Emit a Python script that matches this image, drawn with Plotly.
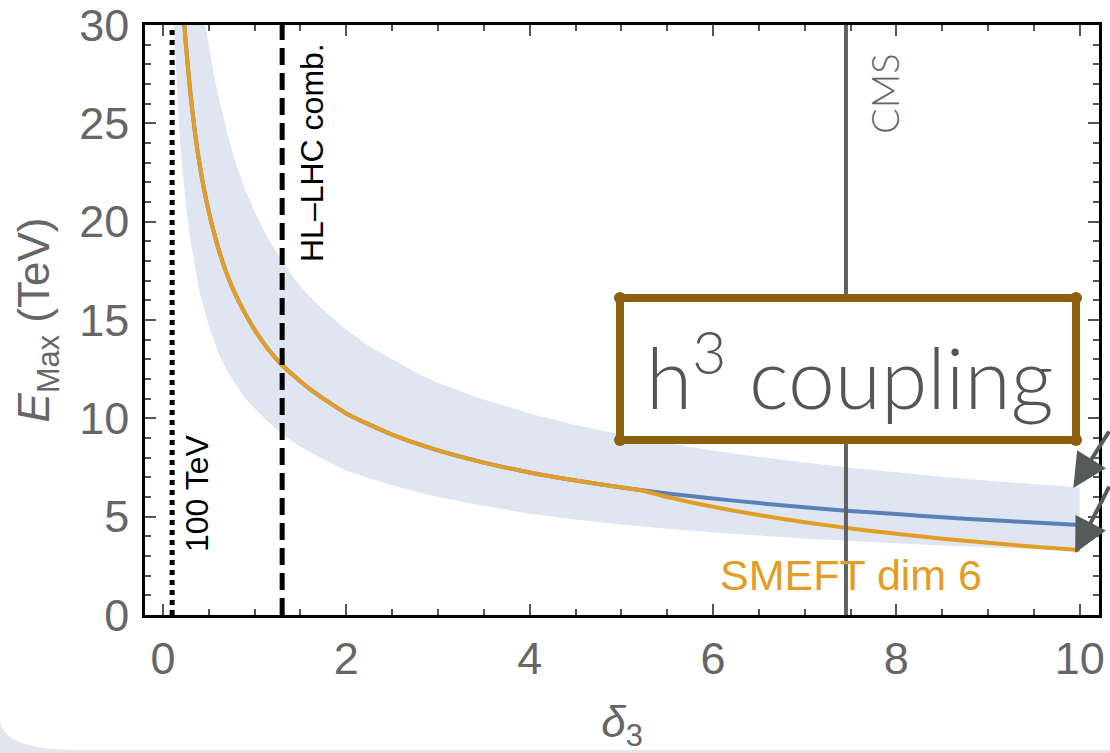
import plotly.graph_objects as go

# ---- data: maximal energy scale E_Max (TeV) vs trilinear deviation delta_3 ----
delta_central = [0.23, 0.25, 0.3, 0.35, 0.4, 0.45, 0.5, 0.6, 0.7, 0.8, 0.9, 1.0, 1.15, 1.3, 1.6,
                 2.0, 2.5, 3.0, 3.5, 4.0, 4.5, 5.0, 5.5, 6.0, 6.5, 7.0, 7.5, 8.0, 8.5, 9.0, 9.5, 10.0]
e_central = [30.2, 29.0, 26.5, 24.5, 22.9, 21.6, 20.5, 18.7, 17.3, 16.2, 15.3, 14.5, 13.5, 12.7, 11.5,
             10.25, 9.17, 8.37, 7.75, 7.25, 6.84, 6.48, 6.18, 5.92, 5.69, 5.48, 5.29, 5.13, 4.97, 4.83, 4.70, 4.57]

delta_smeft = [0.23, 0.25, 0.3, 0.35, 0.4, 0.45, 0.5, 0.6, 0.7, 0.8, 0.9, 1.0, 1.15, 1.3, 1.6,
               2.0, 2.5, 3.0, 3.5, 4.0, 4.5, 5.0, 5.2, 5.5, 6.0, 6.5, 7.0, 7.5, 8.0, 8.5, 9.0, 9.5, 10.0]
e_smeft = [30.2, 29.0, 26.5, 24.5, 22.9, 21.6, 20.5, 18.7, 17.3, 16.2, 15.3, 14.5, 13.5, 12.7, 11.5,
           10.25, 9.17, 8.37, 7.75, 7.25, 6.84, 6.48, 6.36, 6.0, 5.5, 5.08, 4.72, 4.4, 4.13, 3.88, 3.67, 3.47, 3.3]

delta_band_lo = [0.12, 0.14, 0.17, 0.2, 0.25, 0.3, 0.35, 0.4, 0.5, 0.6, 0.7, 0.8, 0.9, 1.0, 1.15, 1.3, 1.45,
                 1.6, 1.8, 2.0, 2.25, 2.5, 2.75, 3.0, 3.5, 4.0, 4.5, 5.0, 5.5, 6.0, 6.5, 7.0, 7.5, 8.0,
                 8.5, 9.0, 9.5, 10.0]
e_band_lo = [30.0, 27.8, 25.2, 23.3, 20.8, 19.0, 17.6, 16.4, 14.7, 13.4, 12.4, 11.7, 11.0, 10.5, 9.8, 9.2, 8.7,
             8.3, 7.8, 7.35, 6.95, 6.6, 6.28, 6.0, 5.55, 5.15, 4.85, 4.6, 4.38, 4.2, 4.03, 3.89, 3.76, 3.64,
             3.53, 3.44, 3.35, 3.27]

delta_band_hi = [0.46, 0.5, 0.55, 0.6, 0.7, 0.8, 0.9, 1.0, 1.15, 1.3, 1.45, 1.6, 1.8, 2.0, 2.25, 2.5, 2.75,
                 3.0, 3.5, 4.0, 4.5, 5.0, 5.5, 6.0, 6.5, 7.0, 7.5, 8.0, 8.5, 9.0, 9.5, 10.0]
e_band_hi = [30.0, 29.0, 27.6, 26.5, 24.5, 22.9, 21.6, 20.5, 19.1, 18.0, 17.0, 16.2, 15.3, 14.5, 13.67, 13.0, 12.36,
             11.8, 10.96, 10.25, 9.66, 9.17, 8.74, 8.37, 8.04, 7.75, 7.49, 7.25, 7.03, 6.83, 6.65, 6.48]

# reference sensitivities on delta_3
delta_100tev = 0.1
delta_hllhc = 1.3
delta_cms = 7.45

# ---- figure geometry (pixels) ----
W, H = 1110, 753
ML, MR, MT, MB = 145, 11, 25, 138
PW, PH = W - ML - MR, H - MT - MB


def pxx(x):
    return (x - ML) / PW


def pxy(y):
    return (H - MB - y) / PH


BAND = "rgb(223,229,241)"
BLUE = "#5b80b8"
ORANGE = "#e29d26"
GREY_TXT = "#666666"
BROWN = "#8c600e"

fig = go.Figure()

fig.add_trace(go.Scatter(
    x=delta_band_lo + delta_band_hi[::-1],
    y=e_band_lo + e_band_hi[::-1],
    fill="toself", fillcolor=BAND, mode="lines", line=dict(width=0),
    hoverinfo="skip", showlegend=False))

fig.add_trace(go.Scatter(
    x=delta_central, y=e_central, mode="lines",
    line=dict(color=BLUE, width=4, shape="spline", smoothing=0.6), showlegend=False))

fig.add_trace(go.Scatter(
    x=delta_smeft, y=e_smeft, mode="lines",
    line=dict(color=ORANGE, width=4, shape="spline", smoothing=0.6), showlegend=False))

shapes = []
# vertical reference lines
shapes.append(dict(type="line", xref="x", yref="y", x0=delta_100tev, x1=delta_100tev, y0=0, y1=30,
                   line=dict(color="black", width=5, dash="5px,5px"), layer="above"))
shapes.append(dict(type="line", xref="x", yref="y", x0=delta_hllhc, x1=delta_hllhc, y0=0, y1=30,
                   line=dict(color="black", width=5, dash="17px,8px"), layer="above"))
shapes.append(dict(type="line", xref="x", yref="y", x0=delta_cms, x1=delta_cms, y0=0, y1=30,
                   line=dict(color="#5e6264", width=4), layer="above"))

# framed label box
bx0, bx1, by0, by1 = 620, 1076, 298, 440
shapes.append(dict(type="rect", xref="paper", yref="paper",
                   x0=pxx(bx0), x1=pxx(bx1), y0=pxy(by1), y1=pxy(by0),
                   fillcolor="white", line=dict(color=BROWN, width=8), layer="above"))
r = 6
for cx, cy in [(bx0, by0), (bx1, by0), (bx0, by1), (bx1, by1)]:
    shapes.append(dict(type="circle", xref="paper", yref="paper",
                       x0=pxx(cx - r), x1=pxx(cx + r), y0=pxy(cy + r), y1=pxy(cy - r),
                       fillcolor=BROWN, line=dict(width=0), layer="above"))

# page background corner
corner = (f"M {pxx(0)},{pxy(753)} L {pxx(0)},{pxy(718)} "
          f"Q {pxx(0)},{pxy(750)} {pxx(78)},{pxy(750)} "
          f"L {pxx(1110)},{pxy(750)} L {pxx(1110)},{pxy(753)} Z")
shapes.append(dict(type="path", xref="paper", yref="paper", path=corner,
                   fillcolor="#e3e6ed", line=dict(width=0), layer="below"))


def label(xp, yp, text, angle=0, **font):
    return dict(x=pxx(xp), y=pxy(yp), xref="paper", yref="paper", text=text, textangle=angle,
                xanchor="center", yanchor="middle", showarrow=False, font=font)


annotations = [
    label(197, 493, "100 TeV", -90, family="Liberation Sans", size=32, color="black"),
    label(312, 153, "HL\u2013LHC comb.", -90, family="Liberation Sans", size=32, color="black"),
    label(884, 94, "CMS", -90, family="Lato", size=38, color=GREY_TXT, weight=300),
    label(851, 575, "SMEFT dim 6", 0, family="Liberation Sans", size=43, color=ORANGE),
    label(850, 372, "h<sup>3</sup> coupling", 0, family="Lato", size=84, color="#555555", weight=300),
    # pointer arrows from the right margin
    dict(x=9.93, y=6.46, xref="x", yref="y", ax=60, ay=-58, text="", showarrow=True,
         arrowhead=2, arrowsize=1.7, arrowwidth=4, arrowcolor="#555a5a", standoff=0),
    dict(x=9.95, y=3.15, xref="x", yref="y", ax=55, ay=-68, text="", showarrow=True,
         arrowhead=2, arrowsize=1.7, arrowwidth=4, arrowcolor="#555a5a", standoff=0),
]

tickfont = dict(family="Liberation Sans", size=45, color=GREY_TXT)
axis_common = dict(
    showgrid=False, zeroline=False, showline=True, linecolor="black", linewidth=2.5,
    mirror="ticks", ticks="inside", ticklen=11, tickwidth=2, tickcolor="#555555",
    tickfont=tickfont, automargin=False, ticklabeloverflow="allow",
)

fig.update_layout(
    width=W, height=H,
    margin=dict(l=ML, r=MR, t=MT, b=MB),
    paper_bgcolor="white", plot_bgcolor="white",
    xaxis=dict(range=[-0.196, 10.21], tick0=0, dtick=2,
               minor=dict(dtick=0.5, ticklen=6, tickwidth=2, tickcolor="#555555", ticks="inside"),
               ticklabelstandoff=2,
               title=dict(text="<i>δ</i><sub>3</sub>", font=dict(family="Liberation Sans", size=44,
                                                                  color=GREY_TXT), standoff=28),
               **axis_common),
    yaxis=dict(range=[0, 30], tick0=0, dtick=5,
               minor=dict(dtick=1, ticklen=6, tickwidth=2, tickcolor="#555555", ticks="inside"),
               ticklabelstandoff=4,
               title=dict(text="<i>E</i><sub>Max</sub> (TeV)",
                          font=dict(family="Liberation Sans", size=44, color=GREY_TXT), standoff=16),
               **axis_common),
    shapes=shapes,
    annotations=annotations,
)

fig.write_html("out.html")
